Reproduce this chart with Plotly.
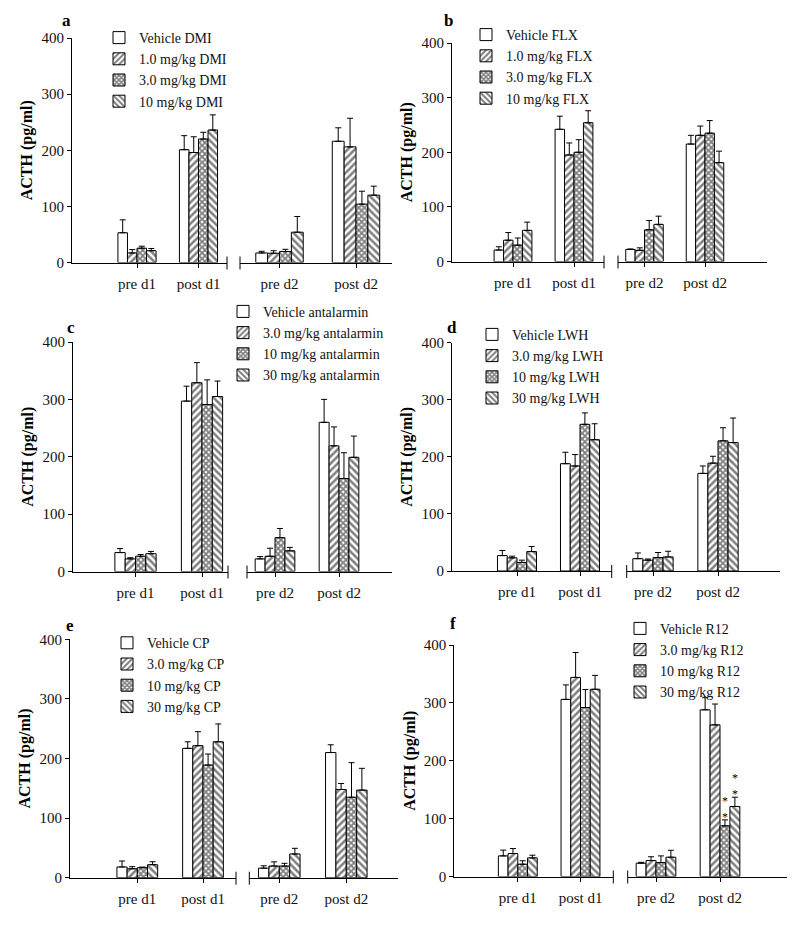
import plotly.graph_objects as go

# the page body has an 8px margin, so the figure is drawn 8px in from the corner
OFF = 8
W, H = 800 - OFF, 927 - OFF
SERIF = "Liberation Serif"

# ---------------- data ----------------
groups_left = ["pre d1", "post d1"]
groups_right = ["pre d2", "post d2"]

# panel a (DMI)
dmi_labels = ["Vehicle DMI", "1.0 mg/kg DMI", "3.0 mg/kg DMI", "10 mg/kg DMI"]
dmi_means = [[53, 201, 17, 216], [17, 196, 16.5, 206], [25.5, 220, 19.5, 104], [21, 236, 54, 120]]
dmi_sem = [[23, 25, 3, 24], [6, 28, 4.5, 51], [3.5, 12, 4, 23], [4, 27, 28, 16]]

# panel b (FLX)
flx_labels = ["Vehicle FLX", "1.0 mg/kg FLX", "3.0 mg/kg FLX", "10 mg/kg FLX"]
flx_means = [[21, 242, 22, 215], [39, 195, 20.5, 231], [30, 200, 58, 235], [57, 254, 68, 181]]
flx_sem = [[6, 24, 1, 16], [14, 22, 4.5, 17], [13, 23, 17, 23], [15, 22, 15, 21]]

# panel c (antalarmin)
ant_labels = ["Vehicle antalarmin", "3.0 mg/kg antalarmin", "10 mg/kg antalarmin", "30 mg/kg antalarmin"]
ant_means = [[33, 297, 22, 260], [22, 329, 26.6, 219], [26.6, 291, 59, 162], [31, 305, 36, 199]]
ant_sem = [[7, 26, 4, 40], [2, 35, 14, 33], [3, 43, 16, 45], [4, 27, 6, 37]]

# panel d (LWH)
lwh_labels = ["Vehicle LWH", "3.0 mg/kg LWH", "10 mg/kg LWH", "30 mg/kg LWH"]
lwh_means = [[27, 188, 21.6, 171], [23, 184, 19, 189], [15, 257, 23.4, 228], [34, 230, 24.6, 225]]
lwh_sem = [[9, 20, 10, 13], [3, 20, 2, 12], [4, 20, 9, 23], [9, 28, 10, 43]]

# panel e (CP)
cp_labels = ["Vehicle CP", "3.0 mg/kg CP", "10 mg/kg CP", "30 mg/kg CP"]
cp_means = [[18, 217, 16, 210], [15, 221.5, 19.6, 148], [16.8, 189, 19.6, 135], [21.8, 228, 39.8, 147]]
cp_sem = [[10, 11, 4, 13], [3.5, 23.5, 7, 10], [1, 18.5, 4.5, 58], [5, 30, 9.5, 36.5]]

# panel f (R12)
r12_labels = ["Vehicle R12", "3.0 mg/kg R12", "10 mg/kg R12", "30 mg/kg R12"]
r12_means = [[35.6, 306, 23, 288], [39.7, 344, 27.6, 262], [21.2, 292, 24, 87.5], [32.1, 323.5, 33.3, 121]]
r12_sem = [[10, 25, 1.5, 21], [8.6, 43, 6.5, 36], [6, 31, 11.6, 10.3], [4.7, 24, 12, 16]]
r12_significant = [2, 3]  # series with ** at post d2

panel_letters = ["a", "b", "c", "d", "e", "f"]
y_ticks = [0, 100, 200, 300, 400]

panels = [
    (dmi_labels, dmi_means, dmi_sem),
    (flx_labels, flx_means, flx_sem),
    (ant_labels, ant_means, ant_sem),
    (lwh_labels, lwh_means, lwh_sem),
    (cp_labels, cp_means, cp_sem),
    (r12_labels, r12_means, r12_sem),
]

# ---------------- geometry (pixels of the 800x927 page) ----------------
# x0, y400, y0, left_end, right_start, right_end, group centres
geom = [
    (72, 38, 262.5, 227, 240, 392, [137, 198.5, 279.5, 356]),
    (452, 43, 261.5, 604, 618, 767, [513, 574, 644.5, 705]),
    (73, 342, 571.5, 228, 247, 392, [135.5, 202, 275, 339]),
    (452, 342.7, 571, 611.7, 626.7, 780, [517, 580, 653, 718]),
    (70, 639.3, 877.7, 236, 249.3, 398, [137.3, 203, 279.3, 346.3]),
    (454.3, 645, 876.5, 613.3, 627.7, 786.7, [517.8, 580.5, 656, 720]),
]
letter_pos = [(67, 20), (449, 20), (71, 327), (452, 327), (70, 625), (453, 623)]
# legend: text left x, vertical middle of the four rows
legend_pos = [(139, 69.5), (506, 66.5), (263, 343.3), (512, 366.3), (147, 674.7), (660, 660.3)]

patterns = [
    dict(shape=""),
    dict(shape="/", size=5, solidity=0.5),
    dict(shape="x", size=4, solidity=0.7),
    dict(shape="\\", size=5, solidity=0.5),
]


def px(x):
    return (x - OFF) / W


def py(y):
    return 1 - (y - OFF) / H


def axname(kind, n):
    return f"{kind}axis" if n == 1 else f"{kind}axis{n}"


def axref(kind, n):
    return kind if n == 1 else f"{kind}{n}"


fig = go.Figure()
layout = {}
shapes = []
annotations = []

tickfont = dict(family=SERIF, size=15, color="#111")

for i, ((labels, means, sems), g) in enumerate(zip(panels, geom)):
    x0, y400, y0, le, rs, re, c = g
    nl, nr, ny = 2 * i + 1, 2 * i + 2, i + 1
    legname = "legend" if i == 0 else f"legend{i + 1}"

    for k in range(4):
        pat = dict(fgcolor="black", bgcolor="white", **patterns[k])
        for side, (cats, sl, nx) in enumerate(
            [(groups_left, slice(0, 2), nl), (groups_right, slice(2, 4), nr)]
        ):
            fig.add_trace(
                go.Bar(
                    x=cats,
                    y=means[k][sl],
                    name=labels[k],
                    legend=legname,
                    legendgroup=f"p{i}s{k}",
                    showlegend=(side == 0),
                    xaxis=axref("x", nx),
                    yaxis=axref("y", ny),
                    marker=dict(color="white", line=dict(color="black", width=1), pattern=pat),
                    error_y=dict(
                        type="data",
                        symmetric=False,
                        array=sems[k][sl],
                        arrayminus=[0, 0],
                        color="black",
                        thickness=1,
                        width=3,
                    ),
                )
            )

    # x axes (broken axis: two segments)
    ul = c[1] - c[0]
    ur = c[3] - c[2]
    common_x = dict(
        type="category",
        showline=True,
        linecolor="black",
        linewidth=1,
        ticks="outside",
        ticklen=4,
        tickcolor="black",
        tickfont=tickfont,
        ticklabelstandoff=3,
        showgrid=False,
        zeroline=False,
        automargin=False,
        fixedrange=True,
    )
    layout[axname("x", nl)] = dict(
        common_x,
        domain=[px(x0), px(le)],
        anchor=axref("y", ny),
        categoryorder="array",
        categoryarray=groups_left,
        range=[-(c[0] - x0) / ul, 1 + (le - c[1]) / ul],
    )
    layout[axname("x", nr)] = dict(
        common_x,
        domain=[px(rs), px(re)],
        anchor=axref("y", ny),
        categoryorder="array",
        categoryarray=groups_right,
        range=[-(c[2] - rs) / ur, 1 + (re - c[3]) / ur],
    )
    layout[axname("y", ny)] = dict(
        domain=[py(y0), py(y400)],
        anchor=axref("x", nl),
        range=[0, 400],
        tickvals=y_ticks,
        showline=True,
        linecolor="black",
        linewidth=1,
        ticks="outside",
        ticklen=4,
        tickcolor="black",
        tickfont=tickfont,
        showgrid=False,
        zeroline=False,
        automargin=False,
        fixedrange=True,
        title=dict(
            text="<b>ACTH (pg/ml)</b>",
            font=dict(family=SERIF, size=16, color="black"),
            standoff=4,
        ),
    )

    # axis break marks
    for bx in (le, rs):
        shapes.append(
            dict(
                type="line",
                xref="paper",
                yref="paper",
                x0=px(bx),
                x1=px(bx),
                y0=py(y0 - 6),
                y1=py(y0 + 7),
                line=dict(color="black", width=1),
            )
        )

    # panel letter
    lx, ly = letter_pos[i]
    annotations.append(
        dict(
            text=f"<b>{panel_letters[i]}</b>",
            x=px(lx),
            y=py(ly),
            xref="paper",
            yref="paper",
            showarrow=False,
            xanchor="center",
            yanchor="middle",
            font=dict(family=SERIF, size=17, color="black"),
        )
    )

    # legend
    tx, tmid = legend_pos[i]
    layout[legname] = dict(
        x=px(tx - 40),
        y=py(tmid - 47.5),
        xanchor="left",
        yanchor="top",
        bgcolor="rgba(0,0,0,0)",
        font=dict(family=SERIF, size=14, color="#111"),
        tracegroupgap=0,
        traceorder="normal",
    )

# significance marks (panel f, post d2)
for k, xs in zip(r12_significant, (5, 15)):
    top = r12_means[k][3] + r12_sem[k][3]
    annotations.append(
        dict(
            text="*<br>*",
            x="post d2",
            y=top,
            xref="x12",
            yref="y6",
            xshift=xs,
            yshift=-6,
            showarrow=False,
            yanchor="bottom",
            font=dict(family=SERIF, size=12, color="black"),
        )
    )

fig.update_layout(
    width=W,
    height=H,
    margin=dict(l=0, r=0, t=0, b=0),
    paper_bgcolor="white",
    plot_bgcolor="white",
    barmode="group",
    bargap=0.38,
    bargroupgap=0,
    shapes=shapes,
    annotations=annotations,
    **layout,
)

fig.write_html("out.html")
